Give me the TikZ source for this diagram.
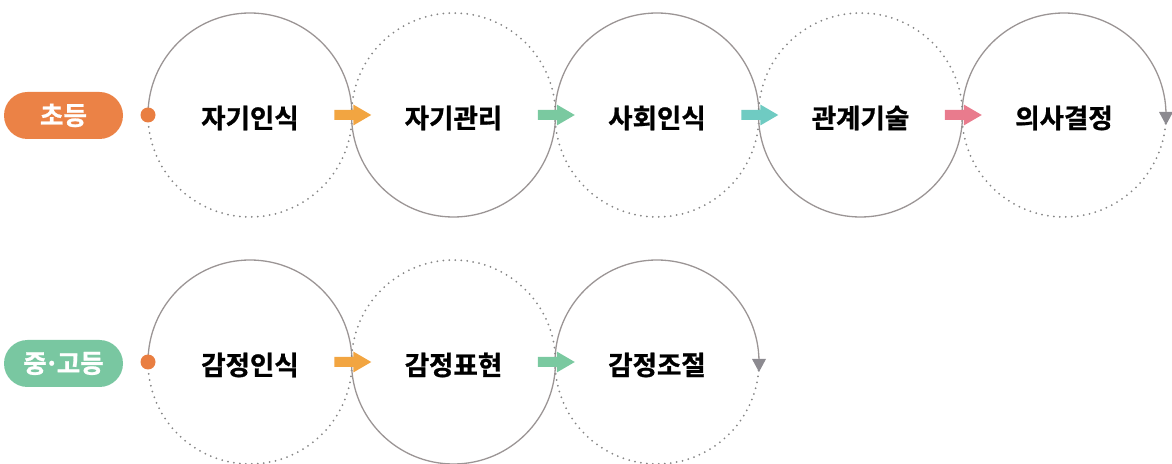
\documentclass[tikz,border=0pt]{standalone}
\usepackage{fontspec}
\usetikzlibrary{calc}
\newfontfamily\krb{Noto Sans CJK KR Bold}[FakeBold=1]
\definecolor{pillorange}{HTML}{EB8246}
\definecolor{pillgreen}{HTML}{79C7A1}
\definecolor{dotorange}{HTML}{E97E41}
\definecolor{arrorange}{HTML}{F2A541}
\definecolor{arrgreen}{HTML}{7AC9A0}
\definecolor{arrteal}{HTML}{6FCBC2}
\definecolor{arrpink}{HTML}{E97B8D}
\definecolor{trigray}{HTML}{8C8A90}
\definecolor{linegray}{HTML}{9B9595}
\definecolor{dotgray}{HTML}{858585}
\tikzset{
  solidarc/.style={draw=linegray, line width=1.3pt},
  dotarc/.style={draw=dotgray, line width=2pt, line cap=round, dash pattern=on 0pt off 6pt},
  pill/.style={fill=#1, rounded corners=23.5pt, minimum width=119pt, minimum height=47pt, inner sep=0pt, text=white, font=\krb\fontsize{25.5}{25.5}\selectfont},
  lbl/.style={inner sep=0pt, font=\krb\fontsize{26.5}{26.5}\selectfont, text=black},
  startdot/.style={fill=dotorange, circle, minimum size=15pt, inner sep=0pt},
}
\newcommand\blockarr[2]{%
  \fill[#2] ($(#1)+(-18.5,-5)$) -- ($(#1)+(0.5,-5)$) -- ($(#1)+(0.5,-10.5)$) -- ($(#1)+(18.5,0)$) -- ($(#1)+(0.5,10.5)$) -- ($(#1)+(0.5,5)$) -- ($(#1)+(-18.5,5)$) -- cycle;}
\newcommand\finaltri[1]{%
  \fill[trigray] ($(#1)+(-7,3)$) -- ($(#1)+(7,3)$) -- ($(#1)+(0,-10)$) -- cycle;}
\begin{document}
\begin{tikzpicture}[x=1pt,y=1pt]
\useasboundingbox (0,0) rectangle (1172,463);
\def\R{102}
\foreach \n/\x in {a1/250,a2/453.5,a3/657,a4/860.5,a5/1064}{\coordinate (\n) at (\x,348);}
\foreach \n/\x in {b1/250,b2/453.5,b3/657}{\coordinate (\n) at (\x,101);}
\foreach \n in {a1,a3,a5,b1,b3}{
  \draw[solidarc] ($(\n)+(-\R,0)$) arc[start angle=180,end angle=0,radius=\R];
  \draw[dotarc] ($(\n)+(-\R,0)$) arc[start angle=180,end angle=360,radius=\R];
}
\foreach \n in {a2,a4,b2}{
  \draw[dotarc] ($(\n)+(-\R,0)$) arc[start angle=180,end angle=0,radius=\R];
  \draw[solidarc] ($(\n)+(-\R,0)$) arc[start angle=180,end angle=360,radius=\R];
}
\node[pill=pillorange] (p1) at (63.5,347.5) {초등};
\node[pill=pillgreen] (p2) at (63.5,99.5) {중\kern-0.1em·\kern-0.1em고등};
\node[startdot] (d1) at ($(a1)+(-\R,0)$) {};
\node[startdot] (d2) at ($(b1)+(-\R,0)$) {};
\coordinate (t1) at ($(a1)!0.5!(a2)+(1,0)$);
\coordinate (t2) at ($(a2)!0.5!(a3)+(1,0)$);
\coordinate (t3) at ($(a3)!0.5!(a4)+(1,0)$);
\coordinate (t4) at ($(a4)!0.5!(a5)+(1,0)$);
\coordinate (u1) at ($(b1)!0.5!(b2)+(1,0)$);
\coordinate (u2) at ($(b2)!0.5!(b3)+(1,0)$);
\blockarr{t1}{arrorange}
\blockarr{t2}{arrgreen}
\blockarr{t3}{arrteal}
\blockarr{t4}{arrpink}
\blockarr{u1}{arrorange}
\blockarr{u2}{arrgreen}
\coordinate (e1) at ($(a5)+(\R,0)$);
\coordinate (e2) at ($(b3)+(\R,0)$);
\finaltri{e1}
\finaltri{e2}
\node[lbl] (l1) at ($(a1)+(0,-3)$) {자기인식};
\node[lbl] (l2) at ($(a2)+(0,-3)$) {자기관리};
\node[lbl] (l3) at ($(a3)+(0,-3)$) {사회인식};
\node[lbl] (l4) at ($(a4)+(0,-3)$) {관계기술};
\node[lbl] (l5) at ($(a5)+(0,-3)$) {의사결정};
\node[lbl] (m1) at ($(b1)+(0,-3)$) {감정인식};
\node[lbl] (m2) at ($(b2)+(0,-3)$) {감정표현};
\node[lbl] (m3) at ($(b3)+(0,-3)$) {감정조절};
\end{tikzpicture}
\end{document}
